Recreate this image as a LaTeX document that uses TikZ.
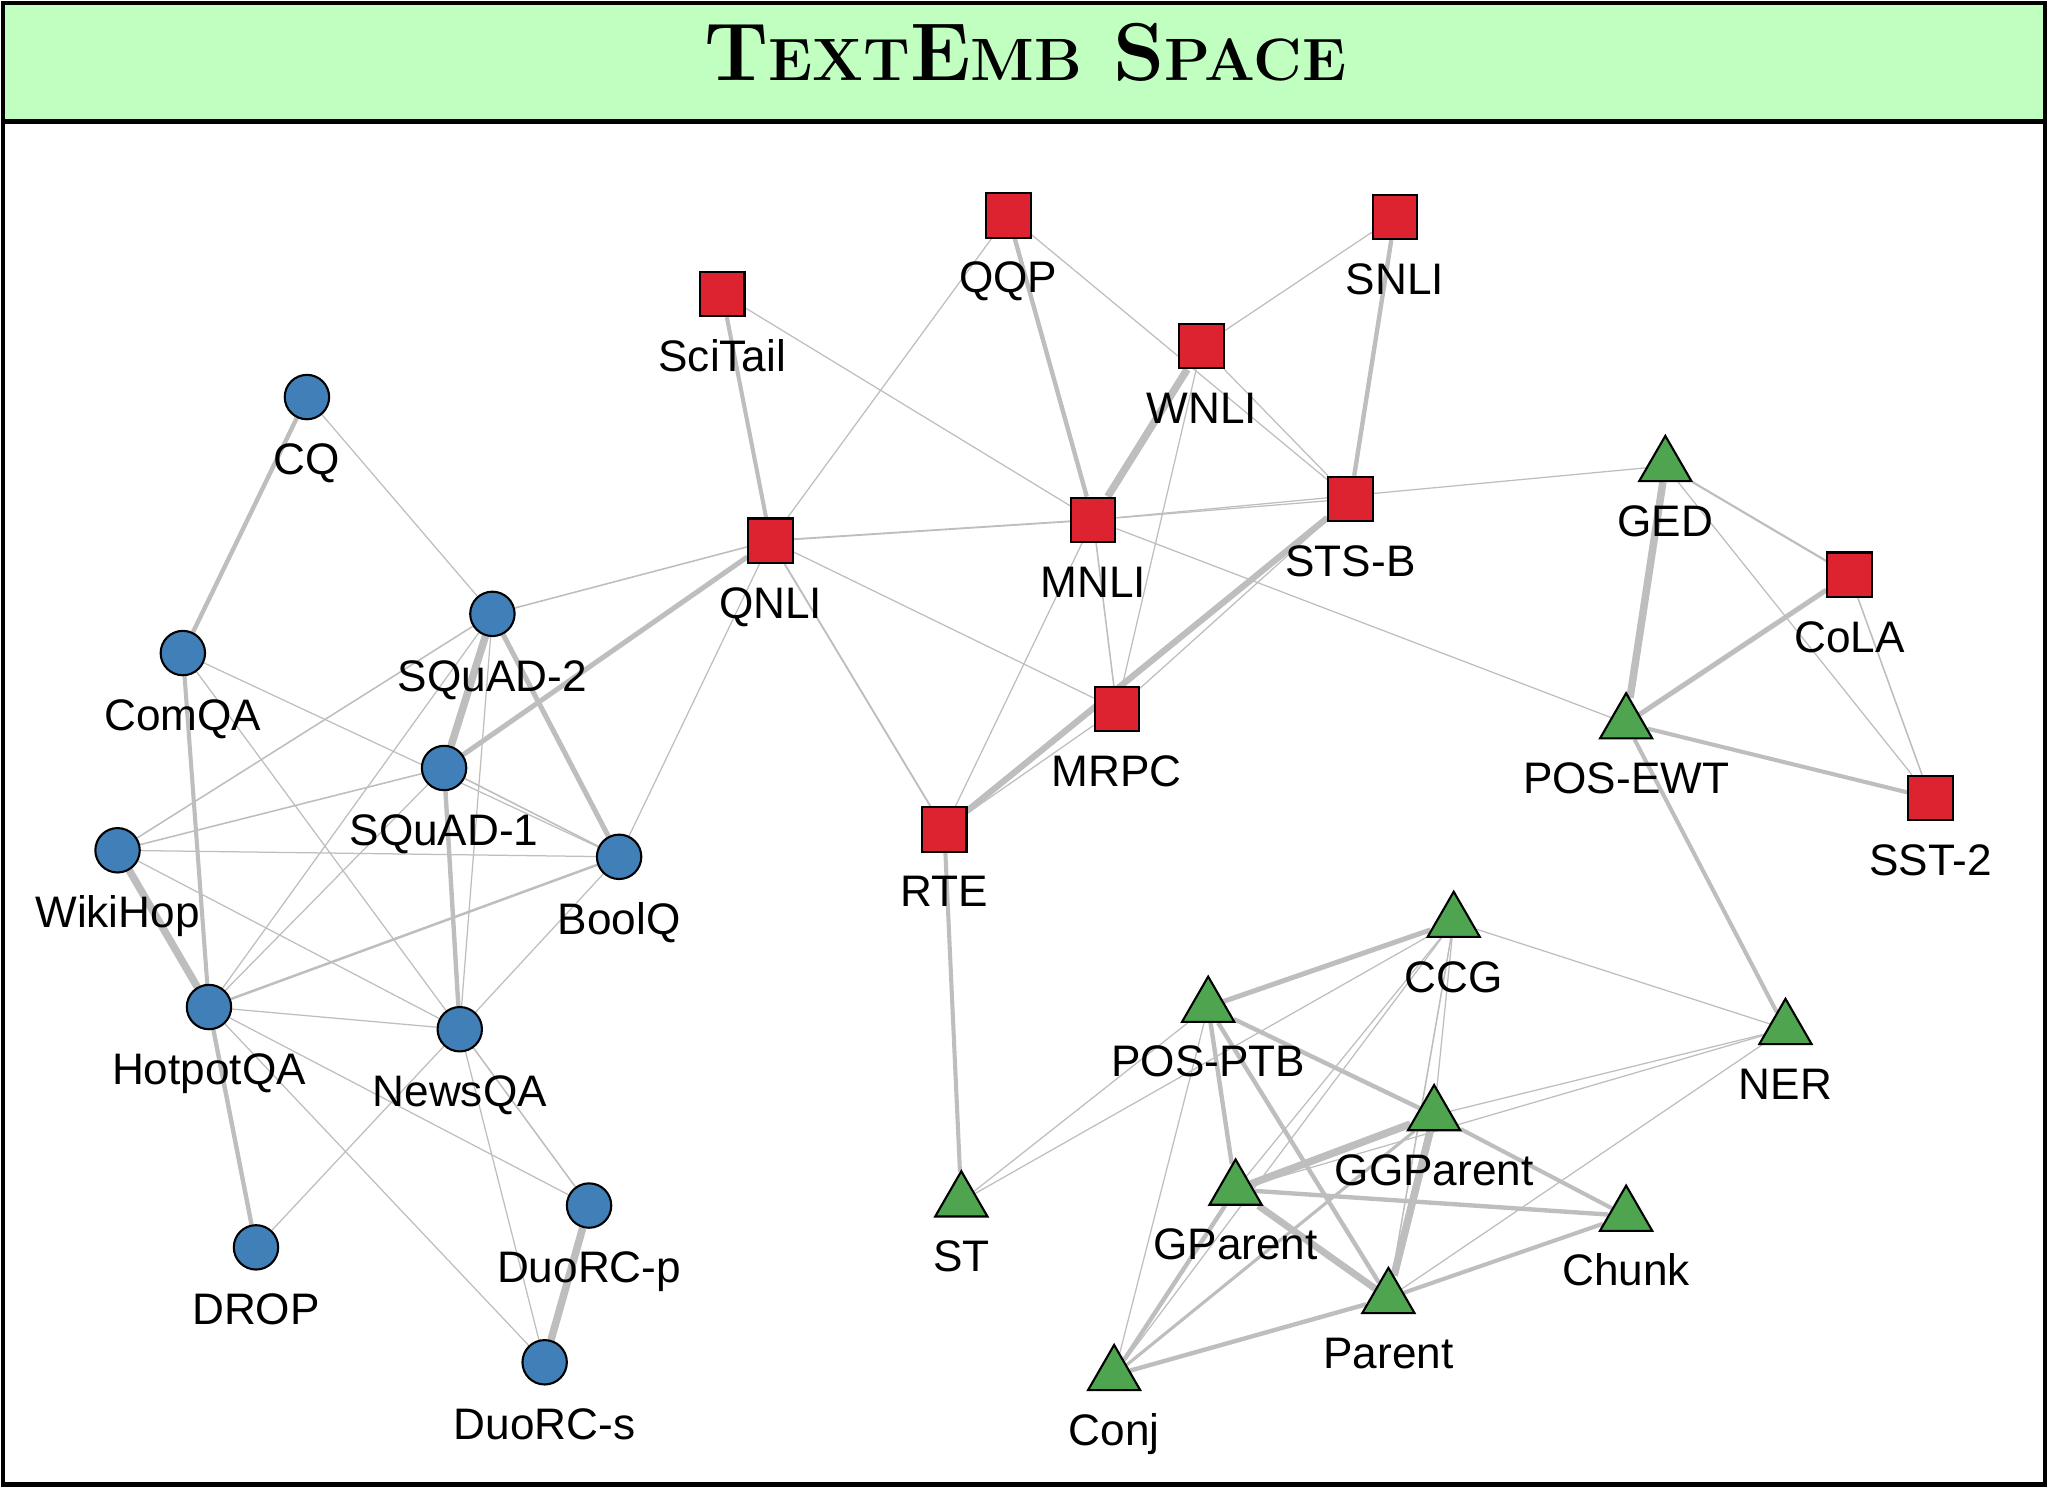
\documentclass[tikz,border=0pt]{standalone}
\usepackage{fontspec}
\newfontfamily\labelfont{Liberation Sans}
\usetikzlibrary{shapes.geometric}
\pgfdeclarelayer{edges}
\pgfsetlayers{edges,main}
\definecolor{qablue}{RGB}{64,127,183}
\definecolor{nlired}{RGB}{221,35,48}
\definecolor{syngreen}{RGB}{79,164,79}
\definecolor{edgegray}{RGB}{190,190,190}
\definecolor{titlegreen}{RGB}{193,255,193}
\newcommand\capbig[1]{{\fontsize{31.4}{32}\selectfont #1}}
\newcommand\capsmall[1]{{\fontsize{22.9}{23}\selectfont #1}}
\begin{document}
\begin{tikzpicture}[x=0.5pt, y=-0.5pt,
  every label/.style={font=\labelfont\fontsize{16.9}{18}\selectfont,
    text height=12.1pt, text depth=0pt, inner sep=0pt},
  label distance=8.4pt,
  task/.style={draw=black, line width=0.8pt, inner sep=0pt, label=below:#1},
  qa/.style={task=#1, circle, fill=qablue, minimum size=17pt},
  nli/.style={task=#1, rectangle, fill=nlired, minimum size=17pt},
  syn/.style={task=#1, regular polygon, regular polygon sides=3,
    fill=syngreen, minimum size=23.1pt, yshift=-2.9pt},
  edge/.style={draw=edgegray, line width=1.2*#1pt}]
  \useasboundingbox (0,0) rectangle (1568,1139);
  % frame and title bar
  \fill[titlegreen] (2.5,2.5) rectangle (1565.5,93);
  \draw[line width=1.6pt] (2.5,93) -- (1565.5,93);
  \draw[line width=1.6pt] (2.5,2.5) rectangle (1565.5,1136.5);
  \node (title) at (785,40) {\bfseries\capbig{T}\capsmall{EXT}\capbig{E}\capsmall{MB}\capbig{ S}\capsmall{PACE}};

  % question answering
  \node[qa=CQ] (cq) at (235,304) {};
  \node[qa=ComQA] (comqa) at (140,500) {};
  \node[qa=SQuAD-2] (squad2) at (377,470) {};
  \node[qa=SQuAD-1] (squad1) at (340,588) {};
  \node[qa=WikiHop] (wikihop) at (90,651) {};
  \node[qa=BoolQ] (boolq) at (474,656) {};
  \node[qa=HotpotQA] (hotpot) at (160,771) {};
  \node[qa=NewsQA] (newsqa) at (352,788) {};
  \node[qa=DROP] (drop) at (196,955) {};
  \node[qa=DuoRC-p] (duorcp) at (451,923) {};
  \node[qa=DuoRC-s] (duorcs) at (417,1043) {};

  % classification / inference
  \node[nli=SciTail] (scitail) at (553,225) {};
  \node[nli=QQP] (qqp) at (772,165) {};
  \node[nli=SNLI] (snli) at (1068,166) {};
  \node[nli=WNLI] (wnli) at (920,265) {};
  \node[nli=QNLI] (qnli) at (590,414) {};
  \node[nli=MNLI] (mnli) at (837,398) {};
  \node[nli=STS-B] (stsb) at (1034,382) {};
  \node[nli=MRPC] (mrpc) at (855,543) {};
  \node[nli=RTE] (rte) at (723,635) {};
  \node[nli=CoLA] (cola) at (1416,440) {};
  \node[nli=SST-2] (sst2) at (1478,611) {};

  % sequence labelling
  \node[syn=GED] (ged) at (1275,351) {};
  \node[syn=POS-EWT] (posewt) at (1245,548) {};
  \node[syn=CCG] (ccg) at (1113,700) {};
  \node[syn=POS-PTB] (posptb) at (925,765) {};
  \node[syn=NER] (ner) at (1367,782) {};
  \node[syn=GGParent] (ggparent) at (1098,848) {};
  \node[syn=GParent] (gparent) at (946,905) {};
  \node[syn=Chunk] (chunk) at (1245,925) {};
  \node[syn=ST] (st) at (736,914) {};
  \node[syn=Parent] (parent) at (1063,988) {};
  \node[syn=Conj] (conj) at (853,1047) {};

  \begin{pgfonlayer}{edges}
  \foreach \a/\b/\w in {cq/comqa/1.4, cq/squad2/0.4, comqa/hotpot/1.3,
      comqa/boolq/0.4, comqa/newsqa/0.4, squad2/squad1/2.4,
      squad2/boolq/1.6, squad2/qnli/0.5, squad2/wikihop/0.5,
      squad2/hotpot/0.4, squad2/newsqa/0.4, squad1/qnli/1.6,
      squad1/wikihop/0.5, squad1/boolq/0.5, squad1/hotpot/0.4,
      squad1/newsqa/1.4, wikihop/boolq/0.4, wikihop/hotpot/2.4,
      wikihop/newsqa/0.4, boolq/hotpot/0.8, boolq/newsqa/0.4,
      boolq/qnli/0.4, hotpot/newsqa/0.4, hotpot/drop/1.4,
      hotpot/duorcp/0.4, hotpot/duorcs/0.4, newsqa/drop/0.4,
      newsqa/duorcp/0.5, newsqa/duorcs/0.4, duorcp/duorcs/2.4}
    \draw[edge=\w] (\a) -- (\b);
  \foreach \a/\b/\w in {scitail/qnli/1.3, scitail/mnli/0.4, qqp/qnli/0.4,
      qqp/mnli/1.4, qqp/stsb/0.4, snli/wnli/0.4, snli/stsb/1.4,
      wnli/mnli/2.4, wnli/mrpc/0.4, wnli/stsb/0.4, qnli/mnli/0.6,
      qnli/rte/0.6, qnli/mrpc/0.4, mnli/rte/0.4, mnli/mrpc/0.5,
      mnli/stsb/0.4, mnli/ged/0.4, mnli/posewt/0.4, stsb/mrpc/0.4,
      stsb/rte/2.0, mrpc/rte/0.4, rte/st/1.3}
    \draw[edge=\w] (\a) -- (\b);
  \foreach \a/\b/\w in {ged/posewt/2.4, ged/cola/0.7, ged/sst2/0.4,
      cola/posewt/1.6, cola/sst2/0.5, posewt/sst2/1.3, posewt/ner/1.3}
    \draw[edge=\w] (\a) -- (\b);
  \foreach \a/\b/\w in {ccg/posptb/1.6, ccg/ner/0.4, ccg/st/0.4,
      ccg/conj/0.4, ccg/gparent/0.4, ccg/ggparent/0.4, ccg/parent/0.5,
      posptb/st/0.4, posptb/ggparent/1.4, posptb/gparent/1.4,
      posptb/parent/1.4, posptb/conj/0.4, ggparent/gparent/2.4,
      ggparent/parent/2.4, ggparent/chunk/1.3, ggparent/conj/1.0,
      ggparent/ner/0.4, gparent/chunk/1.4, gparent/parent/2.2,
      gparent/conj/1.4, gparent/ner/0.4, parent/chunk/1.3,
      parent/conj/1.4, parent/ner/0.4}
    \draw[edge=\w] (\a) -- (\b);
  \end{pgfonlayer}
\end{tikzpicture}
\end{document}
